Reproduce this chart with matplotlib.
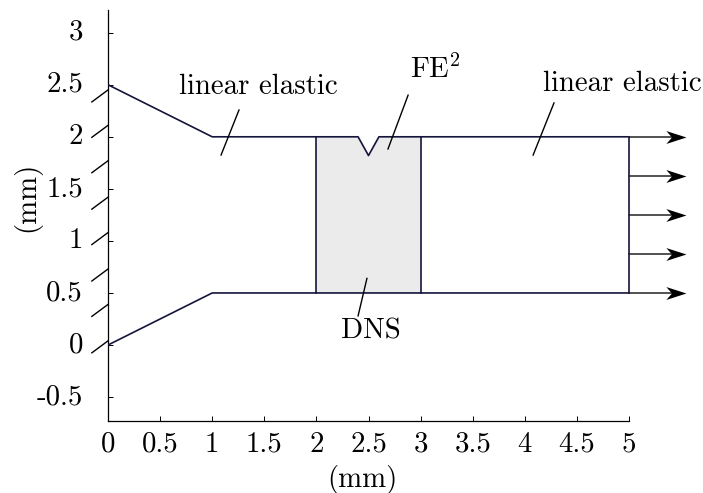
import matplotlib
matplotlib.use("Agg")
import matplotlib.pyplot as plt
from matplotlib.path import Path
from matplotlib.transforms import ScaledTranslation

plt.rcParams['font.family'] = ['cmr10', 'DejaVu Sans']
plt.rcParams['mathtext.fontset'] = 'cm'
plt.rcParams['axes.unicode_minus'] = False

# outline of the specimen (mm)
top_x = [0, 1, 2.4, 2.5, 2.6, 5]
top_y = [2.5, 2, 2, 1.82, 2, 2]
bottom_x = [0, 1, 5]
bottom_y = [0, 0.5, 0.5]

# DNS patch with the notch
dns_x = [2, 2.4, 2.5, 2.6, 3, 3, 2]
dns_y = [2, 2, 1.82, 2, 2, 0.5, 0.5]

# arrows on the right edge
arrow_y = [2, 1.625, 1.25, 0.875, 0.5]
arrow_end = 5.55

# clamped edge hatching, y where each stroke meets the axis
hatch_y = [2.45, 2.11, 1.77, 1.42, 1.08, 0.73, 0.39, 0.04]

# leader lines (x0, x1, y0, y1)
leader_a = [1.257, 1.085, 2.257, 1.825]
leader_b = [2.88, 2.687, 2.40, 1.883]
leader_c = [4.28, 4.08, 2.325, 1.825]
leader_d = [2.485, 2.40, 0.64, 0.28]

xticks = [0, 0.5, 1, 1.5, 2, 2.5, 3, 3.5, 4, 4.5, 5]
xlabels = ['0', '0.5', '1', '1.5', '2', '2.5', '3', '3.5', '4', '4.5', '5']
yticks = [-0.5, 0, 0.5, 1, 1.5, 2, 2.5, 3]
ylabels = ['-0.5', '0', '0.5', '1', '1.5', '2', '2.5', '3']

line_col = '#14143c'
fs = 20.8
W, H = 703, 493

fig = plt.figure(figsize=(W / 100, H / 100), dpi=100)
# one data unit is about 104 px in both directions
left, right = 108, 698
top, bottom = 10, 420.5
ax = fig.add_axes([left / W, 1 - bottom / H, (right - left) / W, (bottom - top) / H])
ax.set_xlim(0, (right - left) / 104.2)
ax.set_ylim(-0.725, 3.218)

ax.spines['top'].set_visible(False)
ax.spines['right'].set_visible(False)
ax.spines['bottom'].set_bounds(0, 5)
for s in ['left', 'bottom']:
    ax.spines[s].set_linewidth(0.9)

ax.set_xticks(xticks)
ax.set_xticklabels(xlabels)
ax.set_yticks(yticks)
ax.set_yticklabels(ylabels)
ax.tick_params(axis='x', direction='in', length=3.6, width=0.7, labelsize=fs, pad=8)
ax.tick_params(axis='y', direction='in', length=3.6, width=0.7, labelsize=fs, pad=18)

# y labels sit a little above their ticks
up = ScaledTranslation(0, 3 / 100, fig.dpi_scale_trans)
for lab in ax.get_yticklabels():
    lab.set_transform(lab.get_transform() + up)

ax.fill(dns_x, dns_y, color='#ebebeb', lw=0, zorder=1)
ax.plot(top_x, top_y, color=line_col, lw=1.2, zorder=3)
ax.plot(bottom_x, bottom_y, color=line_col, lw=1.2, zorder=3)
ax.plot([2, 2], [0.5, 2], color=line_col, lw=1.2, zorder=3)
ax.plot([3, 3], [0.5, 2], color=line_col, lw=1.2, zorder=3)
ax.plot([5, 5], [0.5, 2], color=line_col, lw=1.2, zorder=3)

# stealth shaped arrow head, tip sits on the data point
head = Path([(0, 0), (-1, 0.32), (-0.72, 0), (-1, -0.32), (0, 0)],
            [Path.MOVETO, Path.LINETO, Path.LINETO, Path.LINETO, Path.CLOSEPOLY])
for y in arrow_y:
    ax.plot([5, arrow_end - 0.1], [y, y], color='#222222', lw=1.1, zorder=4)
    ax.plot([arrow_end], [y], marker=head, ms=29, color='black', mew=0, ls='none', zorder=5)

for y in hatch_y:
    ax.plot([0, -0.155], [y, y - 0.115], color='black', lw=1.0, clip_on=False)

for seg in [leader_a, leader_b, leader_c, leader_d]:
    ax.plot(seg[:2], seg[2:], color='black', lw=1.0, zorder=6)

ax.text(1.44, 2.48, 'linear elastic', fontsize=fs, ha='center', va='center')
ax.text(4.94, 2.51, 'linear elastic', fontsize=fs, ha='center', va='center')
ax.text(3.14, 2.65, 'FE$^2$', fontsize=fs, ha='center', va='center')
ax.text(2.52, 0.134, 'DNS', fontsize=fs, ha='center', va='center')

fig.text(362 / W, 1 - 479.5 / H, '(mm)', fontsize=fs, ha='center', va='center')
fig.text(27 / W, 1 - 197 / H, '(mm)', fontsize=fs, ha='center', va='center', rotation=90)

fig.savefig('out.png', dpi=100)
